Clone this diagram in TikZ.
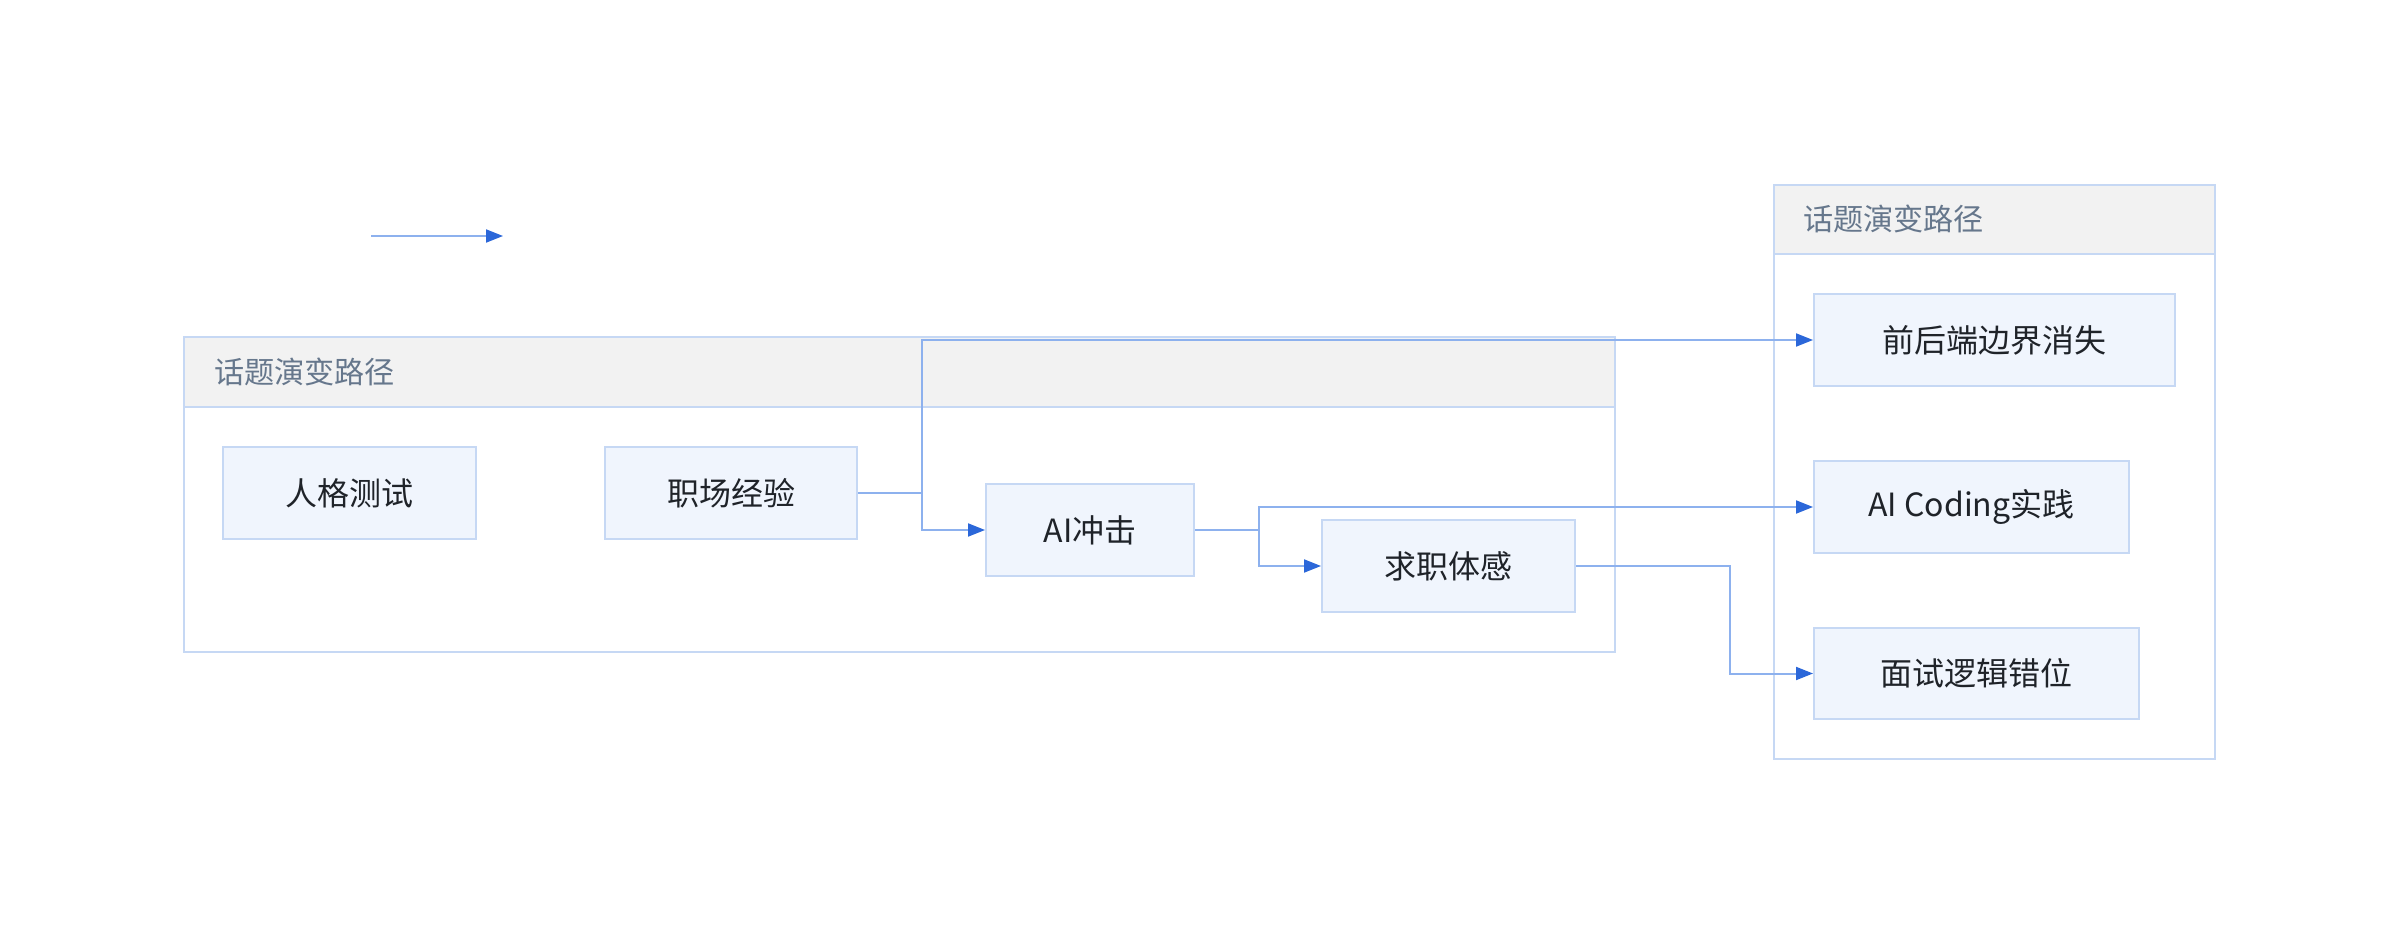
\documentclass[tikz,border=0pt]{standalone}
\usepackage{fontspec}
\newfontfamily\cjk{Noto Sans CJK SC}
\usetikzlibrary{arrows.meta}
\definecolor{nodefill}{HTML}{F0F5FD}
\definecolor{nodeborder}{HTML}{C6D8F4}
\definecolor{headerfill}{HTML}{F2F2F2}
\definecolor{edgeblue}{HTML}{8DB1EE}
\definecolor{arrowblue}{HTML}{2B67D9}
\definecolor{textdark}{HTML}{1F2329}
\definecolor{titlegray}{HTML}{66778C}
\begin{document}
\begin{tikzpicture}[x=0.75pt,y=-0.75pt,
  topicbox/.style={draw=nodeborder, fill=nodefill, line width=1.5pt, inner sep=0pt,
    minimum height=69pt, text=textdark, font=\cjk\fontsize{24}{28}\selectfont},
  clusterbox/.style={draw=nodeborder, line width=1.5pt, fill=white},
  headerbox/.style={draw=nodeborder, line width=1.5pt, fill=headerfill},
  ctitle/.style={anchor=west, inner sep=0pt, text=titlegray, font=\cjk\fontsize{22.6}{26}\selectfont},
  flow/.style={draw=edgeblue, line width=1.5pt, -{Triangle[length=12.75pt,width=9.75pt,color=arrowblue]}}
]
\useasboundingbox (0,0) rectangle (2400,944);

% clusters
\draw[clusterbox] (184,337) rectangle (1615,652);
\draw[headerbox] (184,337) rectangle (1615,407);
\node[ctitle] (ltitle) at (214,372) {话题演变路径};

\draw[clusterbox] (1774,185) rectangle (2215,759);
\draw[headerbox] (1774,185) rectangle (2215,254);
\node[ctitle] (rtitle) at (1803,219) {话题演变路径};

% nodes
\node[topicbox, minimum width=189.75pt] (rg) at (349.5,493) {人格测试};
\node[topicbox, minimum width=189pt] (jc) at (731,493) {职场经验};
\node[topicbox, minimum width=156pt] (ai) at (1090,530) {AI冲击};
\node[topicbox, minimum width=189.75pt] (qz) at (1448.5,566) {求职体感};

\node[topicbox, minimum width=270.75pt] (qhd) at (1994.5,340) {前后端边界消失};
\node[topicbox, minimum width=236.25pt] (aic) at (1971.5,507) {AI Coding实践};
\node[topicbox, minimum width=243.75pt, minimum height=68.25pt] (ms) at (1976.5,673.5) {面试逻辑错位};

% legend arrow
\coordinate (lg1) at (371,236);
\coordinate (lg2) at (503,236);
\draw[flow] (lg1) -- (lg2);

% edges
\draw[flow] (jc.east) -- ++(64,0) |- (qhd.west);
\draw[flow] (jc.east) -- ++(64,0) |- (ai.west);
\draw[flow] (ai.east) -- ++(64,0) |- (aic.west);
\draw[flow] (ai.east) -- ++(64,0) |- (qz.west);
\draw[flow] (qz.east) -- ++(154,0) |- (ms.west);
\end{tikzpicture}
\end{document}
